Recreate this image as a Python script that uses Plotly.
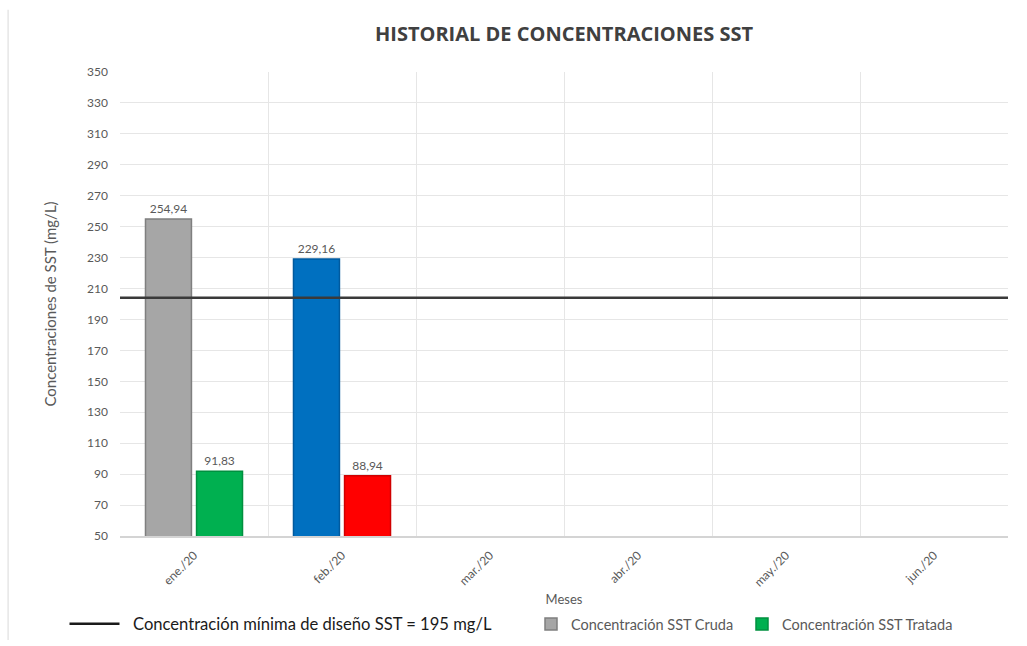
import plotly.graph_objects as go

months = ["ene./20", "feb./20", "mar./20", "abr./20", "may./20", "jun./20"]
cruda = [254.94, 229.16, None, None, None, None]
tratada = [91.83, 88.94, None, None, None, None]
cruda_colors = ["#a6a6a6", "#0070c0", "#a6a6a6", "#a6a6a6", "#a6a6a6", "#a6a6a6"]
cruda_lines = ["#7f7f7f", "#005a9e", "#7f7f7f", "#7f7f7f", "#7f7f7f", "#7f7f7f"]
tratada_colors = ["#00b050", "#ff0000", "#00b050", "#00b050", "#00b050", "#00b050"]
tratada_lines = ["#00903f", "#d00000", "#00903f", "#00903f", "#00903f", "#00903f"]
limit_value = 204
limit_name = "Concentración mínima de diseño SST = 195 mg/L"
y_ticks = list(range(50, 351, 20))


def fmt(v):
    return "" if v is None else f"{v:.2f}".replace(".", ",")


FONT = "Lato, 'Open Sans', sans-serif"
GRAY = "#595959"

fig = go.Figure()
fig.add_trace(go.Scatter(
    x=[None], y=[None], mode="lines", name="\u00a0\u00a0" + limit_name,
    line=dict(color="#1a1a1a", width=2.5), legend="legend", showlegend=True,
))
fig.add_trace(go.Bar(
    x=months, y=cruda, name="Concentración SST Cruda",
    marker=dict(color=cruda_colors, line=dict(color=cruda_lines, width=1.5)),
    text=[fmt(v) for v in cruda], textposition="outside",
    textfont=dict(size=12, color=GRAY, family=FONT), cliponaxis=False,
    legend="legend2",
))
fig.add_trace(go.Bar(
    x=months, y=tratada, name="Concentración SST Tratada",
    marker=dict(color=tratada_colors, line=dict(color=tratada_lines, width=1.5)),
    text=[fmt(v) for v in tratada], textposition="outside",
    textfont=dict(size=12, color=GRAY, family=FONT), cliponaxis=False,
    legend="legend3",
))

fig.add_shape(type="line", xref="paper", yref="y", x0=0, x1=1,
              y0=limit_value, y1=limit_value,
              line=dict(color="#3a3a3a", width=2.5), layer="above")
fig.add_shape(type="line", xref="paper", yref="paper", x0=-0.126, x1=-0.126,
              y0=1.134, y1=-0.224, line=dict(color="#e6e6e6", width=1.5))

legend_common = dict(orientation="h", yref="container", y=0.034, yanchor="middle",
                     xref="container", xanchor="left", bgcolor="rgba(0,0,0,0)")

fig.update_layout(
    width=1027, height=646,
    margin=dict(l=120, r=19, t=72, b=110),
    paper_bgcolor="white", plot_bgcolor="white",
    font=dict(family=FONT, color=GRAY),
    title=dict(text="<b>HISTORIAL DE CONCENTRACIONES SST</b>", x=0.5, xref="paper",
               xanchor="center", y=0.948, yanchor="middle",
               font=dict(size=20, color="#404040", family="'Open Sans', sans-serif")),
    barmode="group", bargap=0.31, bargroupgap=0.1,
    xaxis=dict(
        type="category", categoryorder="array", categoryarray=months,
        range=[-0.5, 5.5], tickson="boundaries", showgrid=True, automargin=False,
        gridcolor="#e6e6e6", gridwidth=1, showline=True, linecolor="#d4d4d4",
        linewidth=1.5, tickangle=-45, ticks="", tickfont=dict(size=12, color=GRAY),
        ticklabelstandoff=6,
        title=dict(text="Meses", font=dict(size=13, color=GRAY), standoff=21),
    ),
    yaxis=dict(
        range=[50, 350], tickvals=y_ticks, showgrid=True, gridcolor="#e6e6e6",
        gridwidth=1, zeroline=False, showline=False, ticks="", automargin=False,
        tickfont=dict(size=12, color=GRAY), ticklabelstandoff=11,
        title=dict(text="Concentraciones de SST (mg/L)", font=dict(size=15, color=GRAY),
                   standoff=26),
    ),
    legend=dict(x=64.5 / 1027, font=dict(size=16.6, color="#1a1a1a", family=FONT),
                itemwidth=50, **legend_common),
    legend2=dict(x=531 / 1027, font=dict(size=14.5, color=GRAY, family=FONT),
                 itemwidth=30, **legend_common),
    legend3=dict(x=742 / 1027, font=dict(size=14.5, color=GRAY, family=FONT),
                 itemwidth=30, **legend_common),
)

fig.write_html("out.html", config={"displayModeBar": False},
               post_script="document.body.style.margin='0';")
